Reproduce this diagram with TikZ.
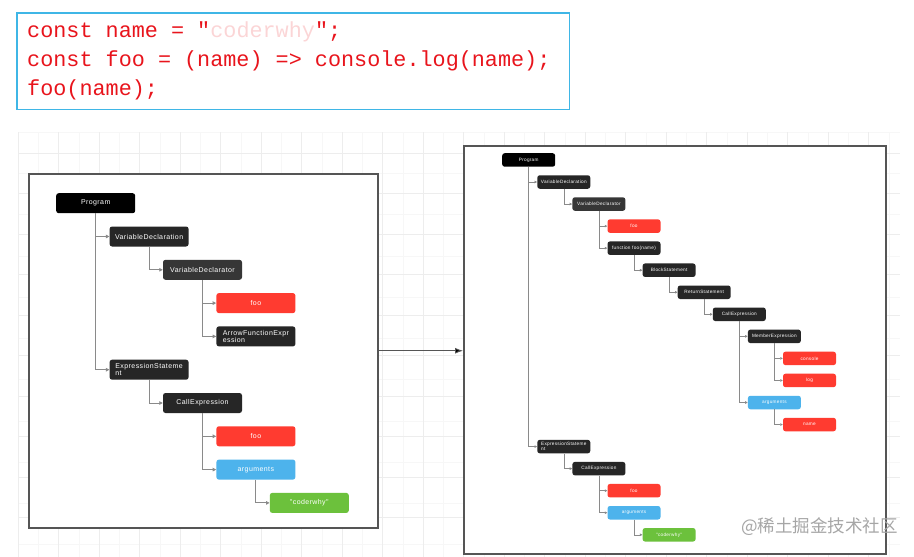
\documentclass[tikz,border=0pt]{standalone}
\usepackage{fontspec}
\usepackage{tikz}
\usetikzlibrary{positioning, arrows.meta, calc}
\newfontfamily\astfont[LetterSpace=6]{Liberation Sans}
\newfontfamily\codefont{Liberation Mono}
\newfontfamily\cjk{Noto Sans CJK SC}
\definecolor{nodedark}{HTML}{262626}
\definecolor{nodegrey}{HTML}{363636}
\definecolor{nodered}{HTML}{FF3B30}
\definecolor{nodeblue}{HTML}{4DB3EC}
\definecolor{nodegreen}{HTML}{6CC13C}
\definecolor{codered}{HTML}{E8141C}
\definecolor{framecyan}{HTML}{3FB6E6}
\definecolor{linkgray}{HTML}{8A8A8A}
\definecolor{boxgray}{HTML}{555555}
\begin{document}
\begin{tikzpicture}[x=1pt, y=-1pt,
        ast/.style={rounded corners=2.5pt, text=white, inner sep=1pt, align=left, anchor=north west},
        bigast/.style={ast, minimum width=79pt, minimum height=20pt, font=\astfont\fontsize{7}{7.4}\selectfont},
        smallast/.style={ast, minimum width=53pt, minimum height=13.5pt, font=\astfont\fontsize{4.7}{5}\selectfont},
        program/.style={fill=black},
        dark/.style={fill=nodedark},
        grey/.style={fill=nodegrey},
        ident/.style={fill=nodered},
        args/.style={fill=nodeblue},
        literal/.style={fill=nodegreen},
        biglink/.style={draw=linkgray, line width=0.9pt, -{Triangle[length=3.5pt, width=3.5pt]}},
        smalllink/.style={draw=linkgray, line width=0.6pt, -{Triangle[length=2.5pt, width=2.5pt]}},
        panel/.style={draw=boxgray, line width=1.5pt, fill=white, anchor=north west},
        gridline/.style={draw=gray!14, line width=0.5pt},
        gridminor/.style={draw=gray!6, line width=0.4pt}
    ]
        \useasboundingbox (0,0) rectangle (914,557);

        % Source code
        \node[anchor=north west, minimum width=552pt, minimum height=96pt,
              text width=532pt, inner xsep=10pt, align=flush left, text=codered,
              font=\codefont\fontsize{21.8}{29}\selectfont] (code) at (17,13)
              {\spaceskip=0.6em\relax
               const name = "{\color{codered!18}coderwhy}";\\
               const foo = (name) => console.log(name);\\
               foo(name);};
        \draw[framecyan, line width=1.4pt] (code.north west) rectangle (code.south east);

        % Background grid
        \foreach \gx in {38.25,78.75,...,900} {
            \draw[gridminor] (\gx,132) -- (\gx,557);
        }
        \foreach \gy in {132,173.25,...,557} {
            \draw[gridminor] (18,\gy) -- (900,\gy);
        }
        \foreach \gx in {18,58.5,...,900} {
            \draw[gridline] (\gx,132) -- (\gx,557);
        }
        \foreach \gy in {153,193.5,...,557} {
            \draw[gridline] (18,\gy) -- (900,\gy);
        }

        % Panels
        \node[panel, minimum width=349pt, minimum height=354pt] (leftpanel) at (28,173) {};
        \node[panel, minimum width=422pt, minimum height=408pt] (rightpanel) at (463,145) {};
        \draw[-{Latex[length=8pt, width=6pt, fill=black]}, line width=0.9pt, draw=boxgray]
            (leftpanel.east) -- (leftpanel.east -| rightpanel.west);

        % Left tree
        \node[bigast, program] (L0) at (56,193) {Program};
        \foreach \id/\lvl/\row/\kind/\txt/\up in {
            L1/1/1/dark/VariableDeclaration/L0,
            L2/2/2/grey/VariableDeclarator/L1,
            L3/3/3/ident/foo/L2,
            L4/3/4/dark/{ArrowFunctionExpr\\ession}/L2,
            L5/1/5/dark/{ExpressionStateme\\nt}/L0,
            L6/2/6/dark/CallExpression/L5,
            L7/3/7/ident/foo/L6,
            L8/3/8/args/arguments/L6,
            L9/4/9/literal/"coderwhy"/L8} {
            \node[bigast, \kind] (\id) at (56+53.4*\lvl, 193+33.3*\row) {\txt};
            \draw[biglink] (\up.south) |- (\id.west);
        }

        % Right tree
        \node[smallast, program] (R0) at (502,153) {Program};
        \foreach \id/\lvl/\row/\kind/\txt/\up in {
            R1/1/1/dark/VariableDeclaration/R0,
            R2/2/2/grey/VariableDeclarator/R1,
            R3/3/3/ident/foo/R2,
            R4/3/4/dark/function foo(name)/R2,
            R5/4/5/dark/BlockStatement/R4,
            R6/5/6/dark/ReturnStatement/R5,
            R7/6/7/dark/CallExpression/R6,
            R8/7/8/dark/MemberExpression/R7,
            R9/8/9/ident/console/R8,
            R10/8/10/ident/log/R8,
            R11/7/11/args/arguments/R7,
            R12/8/12/ident/name/R11,
            R13/1/13/dark/{ExpressionStateme\\nt}/R0,
            R14/2/14/dark/CallExpression/R13,
            R15/3/15/ident/foo/R14,
            R16/3/16/args/arguments/R14,
            R17/4/17/literal/"coderwhy"/R16} {
            \node[smallast, \kind] (\id) at (502+35.1*\lvl, 153+22.05*\row) {\txt};
            \draw[smalllink] (\up.south) |- (\id.west);
        }

        % Watermark
        \node[anchor=east, inner sep=0pt, text=gray!70, font=\cjk\fontsize{17.5}{17.5}\selectfont]
            (mark) at (898,527) {@稀土掘金技术社区};
    \end{tikzpicture}
\end{document}
